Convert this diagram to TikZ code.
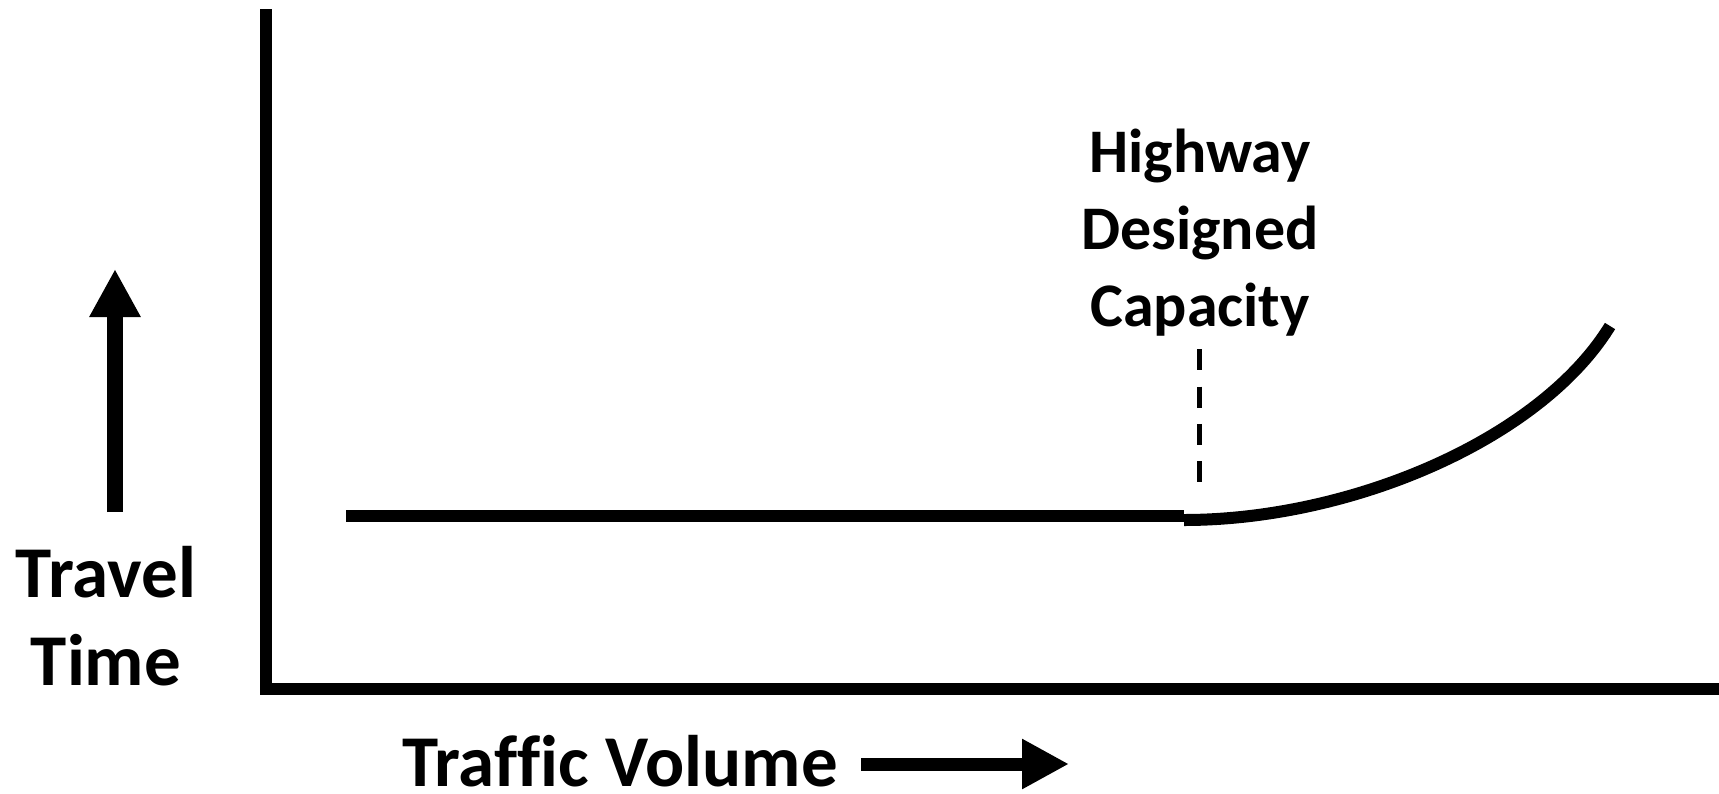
\documentclass[tikz,border=0pt]{standalone}
\usepackage{fontspec}
\setmainfont[Ligatures=NoCommon]{Carlito}
\usetikzlibrary{arrows.meta}
\begin{document}
\begin{tikzpicture}[x=1pt,y=-1pt,
  axis/.style={line width=12pt},
  curveline/.style={line width=12pt},
  capline/.style={line width=5.5pt, dash pattern=on 21pt off 16.3pt},
  bigarrow/.style={-{Triangle[width=48pt,length=48pt]}},
  lbl/.style={font=\bfseries, inner sep=0pt, align=center, anchor=base}
]
\useasboundingbox (0,0) rectangle (1719,793);
% axes
\coordinate (ytop) at (266,9);
\coordinate (origin) at (266,689);
\coordinate (xend) at (1719,689);
\draw[axis] (ytop) -- (266,695);
\draw[axis] (260,689) -- (xend);
% flat part and curve
\coordinate (flatA) at (346,516);
\coordinate (flatB) at (1184,516);
\coordinate (curveA) at (1184,520);
\coordinate (curveB) at (1610,326);
\draw[curveline] (flatA) -- (flatB);
\draw[curveline] (curveA) .. controls (1350,520) and (1540,440) .. (curveB);
% capacity marker
\coordinate (capTop) at (1199.5,349.3);
\coordinate (capBot) at (1199.5,483);
\draw[capline] (capTop) -- (capBot);
\node[lbl, font=\bfseries\fontsize{62}{77}\selectfont] (cap) at (1200,326) {Highway\\Designed\\Capacity};
% travel time
\node[lbl, font=\bfseries\fontsize{73}{88}\selectfont] (tt) at (106,685) {Travel\\Time};
\coordinate (upA) at (115,512);
\coordinate (upB) at (115,269);
\draw[line width=16pt, bigarrow] (upA) -- (upB);
% traffic volume
\node[lbl, font=\bfseries\fontsize{73}{86}\selectfont] (tv) at (620,786) {Traffic Volume};
\coordinate (rA) at (861,764);
\coordinate (rB) at (1069,764);
\draw[line width=13pt, -{Triangle[width=47pt,length=47pt]}] (rA) -- (rB);
\end{tikzpicture}
\end{document}
